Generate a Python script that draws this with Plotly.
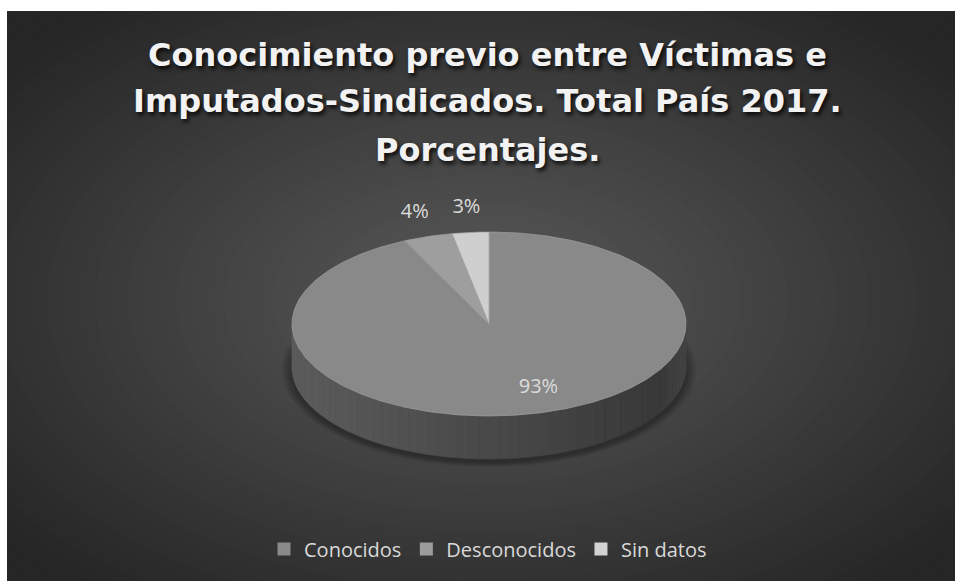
import numpy as np
import plotly.graph_objects as go

# ---------------- data ----------------
categories = ["Conocidos", "Desconocidos", "Sin datos"]
values = [93, 4, 3]
title_lines = ["Conocimiento previo entre Víctimas e",
               "Imputados-Sindicados. Total País 2017.",
               "Porcentajes."]

# ---------------- style ----------------
top_colors = ["#898989", "#9e9e9e", "#cfcfcf"]
legend_colors = ["#8a8a8a", "#9c9c9c", "#d2d2d2"]
W, H = 955, 581
X0, Y0 = 7, 11           # dark chart area starts here
CX, CY, A, B, DEPTH = 489, 324, 197, 92, 43
FONT = "Open Sans"

def ell(theta, dy=0.0, rx=1.0, ry=None):
    if ry is None:
        ry = rx
    th = np.radians(theta)
    return CX + A * rx * np.sin(th), CY - B * ry * np.cos(th) + dy

def hexgray(v):
    v = int(round(max(0, min(255, v))))
    return "#%02x%02x%02x" % (v, v, v)

fig = go.Figure()
shapes = []

# dark backdrop that also covers any right/bottom edge strip
shapes.append(dict(type="rect", xref="paper", yref="paper", layer="below",
                   x0=0, x1=1.03, y0=-0.03, y1=1,
                   fillcolor="#282828", line=dict(width=0)))

# background radial gradient
bcx, bcy = 482, 300
steps = 45
for i in range(steps):
    s = 1.45 * (1 - i / steps)
    t = min(s / 1.25, 1.0)
    g = 0x5a + (0x26 - 0x5a) * t
    shapes.append(dict(type="circle", xref="x", yref="y", layer="below",
                       x0=bcx - 500 * s, x1=bcx + 500 * s,
                       y0=bcy - 300 * s, y1=bcy + 300 * s,
                       fillcolor=hexgray(g), line=dict(width=0)))

# soft shadow under the pie
for k in range(6):
    grow = 10 - k * 1.8
    shapes.append(dict(type="circle", xref="x", yref="y", layer="below",
                       x0=CX - A - grow, x1=CX + A + grow,
                       y0=CY + DEPTH + 3 - B - grow * 0.5, y1=CY + DEPTH + 3 + B + grow * 0.5,
                       fillcolor="rgba(0,0,0,0.06)", line=dict(width=0)))

# side wall of the pie (front half), drawn as shaded strips
n_strips = 60
angs = np.linspace(90, 270, n_strips + 1)
for i in range(n_strips):
    a0, a1 = angs[i], angs[i + 1]
    sub = np.linspace(a0, a1, 4)
    xt, yt = ell(sub)
    xb, yb = ell(sub[::-1], dy=DEPTH)
    xm = (ell((a0 + a1) / 2)[0] - (CX - A)) / (2 * A)   # 0 left .. 1 right
    g = 0x5c + (0x36 - 0x5c) * xm
    if xm > 0.93:
        g += (xm - 0.93) / 0.07 * 14
    col = hexgray(g)
    fig.add_trace(go.Scatter(x=np.r_[xt, xb, xt[0]], y=np.r_[yt, yb, yt[0]],
                             fill="toself", fillcolor=col, mode="lines",
                             line=dict(color=col, width=0.6),
                             hoverinfo="skip", showlegend=False))

# top surface slices
total = sum(values)
start = 0.0
mids = []
for cat, v, c in zip(categories, values, top_colors):
    end = start + 360.0 * v / total
    th = np.linspace(start, end, max(8, int(v * 4)))
    xs, ys = ell(th)
    fig.add_trace(go.Scatter(x=np.r_[CX, xs, CX], y=np.r_[CY, ys, CY],
                             fill="toself", fillcolor=c, mode="lines",
                             line=dict(color="#a0a0a0", width=0.7),
                             hoverinfo="skip", showlegend=False, name=cat))
    mids.append((start + end) / 2)
    start = end

# data labels
lx, ly = [], []
for v, m in zip(values, mids):
    if v > 50:
        x, y = ell(m, rx=1.15, ry=0.71)
    else:
        x, y = ell(m, rx=1.22, ry=1.27)
    lx.append(x)
    ly.append(y)
fig.add_trace(go.Scatter(x=lx, y=ly, mode="text", text=[f"{v}%" for v in values],
                         textfont=dict(family=FONT, size=20, color="#dcdcdc"),
                         hoverinfo="skip", showlegend=False))

# legend entries
for cat, c in zip(categories, legend_colors):
    fig.add_trace(go.Scatter(x=[None], y=[None], mode="markers", name=cat,
                             marker=dict(symbol="square", size=13, color=c,
                                         line=dict(width=0))))

# title lines
annotations = []
for txt, yy in zip(title_lines, [55, 101, 150]):
    annotations.append(dict(text=txt, x=487, y=yy, xref="x", yref="y",
                            showarrow=False, xanchor="center", yanchor="middle",
                            font=dict(family="DejaVu Sans", size=32, color="#f2f2f2",
                                      weight="bold",
                                      shadow="2px 3px 4px rgba(0,0,0,0.85)")))

fig.update_layout(
    width=W, height=H,
    margin=dict(l=X0, r=0, t=Y0, b=0, pad=0, autoexpand=False),
    paper_bgcolor="#ffffff", plot_bgcolor="#262626",
    xaxis=dict(range=[X0, W], visible=False, fixedrange=True),
    yaxis=dict(range=[H, Y0], visible=False, fixedrange=True),
    shapes=shapes, annotations=annotations,
    showlegend=True,
    legend=dict(orientation="h", x=(488 - X0) / (W - X0), xanchor="center",
                y=1 - (549 - Y0) / (H - Y0), yanchor="middle",
                bgcolor="rgba(0,0,0,0)",
                font=dict(family=FONT, size=20, color="#d9d9d9"),
                itemwidth=30, tracegroupgap=0),
)

fig.write_html("out.html", config={"displayModeBar": False},
               post_script="document.documentElement.style.margin='0';"
                           "document.body.style.margin='0';"
                           "document.body.style.overflow='hidden';"
                           "var gd=document.getElementById('{plot_id}');"
                           "gd.style.position='fixed';gd.style.left='0px';gd.style.top='0px';")
